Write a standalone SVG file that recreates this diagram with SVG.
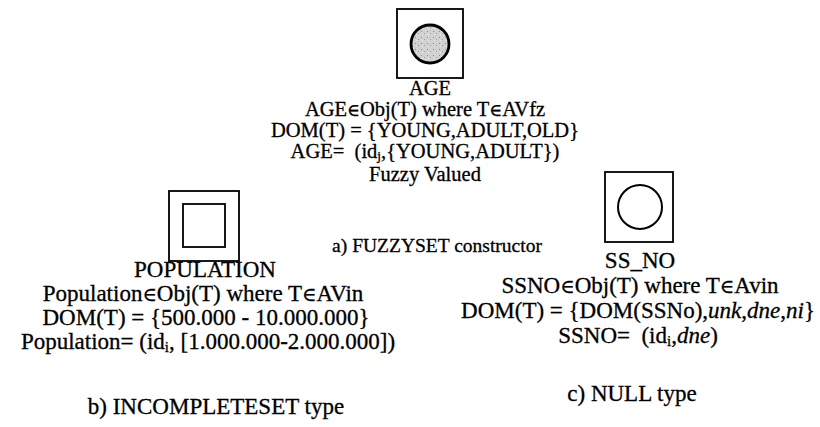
<svg xmlns="http://www.w3.org/2000/svg" width="820" height="427" viewBox="0 0 820 427">
  <style>
    text { font-family: "Liberation Serif", "DejaVu Serif", serif; fill: #000; stroke: #000; stroke-width: 0.3; text-anchor: middle; }
    .big { font-size: 23px; }
    .mid { font-size: 20.5px; }
    .cap { font-size: 19.5px; }
    .box { fill: #fff; stroke: #000; stroke-width: 1.8; }
    .ring { fill: none; stroke: #000; stroke-width: 2; }
    .it { font-style: italic; }
    .sub { font-size: 65%; }
    .el { font-size: 85%; }
  </style>
  <defs>
    <!-- speckled grey used for the fuzzy marker -->
    <pattern id="speckle" width="6" height="6" patternUnits="userSpaceOnUse">
      <rect width="6" height="6" fill="#d2d2d2"/>
      <rect x="1" y="1" width="1" height="1" fill="#8a8a8a"/>
      <rect x="4" y="3" width="1" height="1" fill="#9a9a9a"/>
      <rect x="2" y="4" width="1" height="1" fill="#ededed"/>
    </pattern>
  </defs>

  <!-- Fuzzy valued attribute -->
  <g id="age">
    <rect class="box" x="397" y="9" width="66" height="69"/>
    <circle cx="430" cy="44" r="19" fill="url(#speckle)" stroke="#000" stroke-width="2.8"/>
    <text class="mid" x="430" y="95">AGE</text>
    <text class="mid" x="425" y="116">AGE<tspan class="el">∈</tspan>Obj(T) where T<tspan class="el">∈</tspan>AVfz</text>
    <text class="mid" x="425" y="137">DOM(T) = {YOUNG,ADULT,OLD}</text>
    <text class="mid" x="425" y="158">AGE=&#160; (id<tspan class="sub" dy="2">j</tspan><tspan dy="-2">,{YOUNG,ADULT})</tspan></text>
    <text class="mid" x="425" y="181">Fuzzy Valued</text>
    <text class="cap" x="437" y="252">a) FUZZYSET constructor</text>
  </g>

  <!-- Incomplete set attribute -->
  <g id="population">
    <rect class="box" x="169" y="191" width="70" height="70"/>
    <rect class="box" x="183" y="204" width="42" height="43"/>
    <text class="big" x="205" y="277">POPULATION</text>
    <text class="big" x="203" y="301">Population<tspan class="el">∈</tspan>Obj(T) where T<tspan class="el">∈</tspan>AVin</text>
    <text class="big" x="206" y="325">DOM(T) = {500.000 - 10.000.000}</text>
    <text class="big" x="208" y="349">Population= (id<tspan class="sub" dy="3">i</tspan><tspan dy="-3">, [1.000.000-2.000.000])</tspan></text>
    <text class="big" x="216" y="414">b) INCOMPLETESET type</text>
  </g>

  <!-- Null type attribute -->
  <g id="ss_no">
    <rect class="box" x="605" y="172" width="68" height="70"/>
    <circle class="ring" cx="640" cy="207" r="22"/>
    <text class="big" x="640" y="268">SS_NO</text>
    <text class="big" x="640" y="293">SSNO<tspan class="el">∈</tspan>Obj(T) where T<tspan class="el">∈</tspan>Avin</text>
    <text class="big" x="638" y="318">DOM(T) = {DOM(SSNo),<tspan class="it">unk</tspan>,<tspan class="it">dne</tspan>,<tspan class="it">ni</tspan>}</text>
    <text class="big" x="638" y="343">SSNO=&#160; (id<tspan class="sub" dy="3">i</tspan><tspan dy="-3">,</tspan><tspan class="it">dne</tspan>)</text>
    <text class="big" x="632" y="401">c) NULL type</text>
  </g>

  <!-- no connectors in this figure -->
  <g id="connectors"/>
</svg>
